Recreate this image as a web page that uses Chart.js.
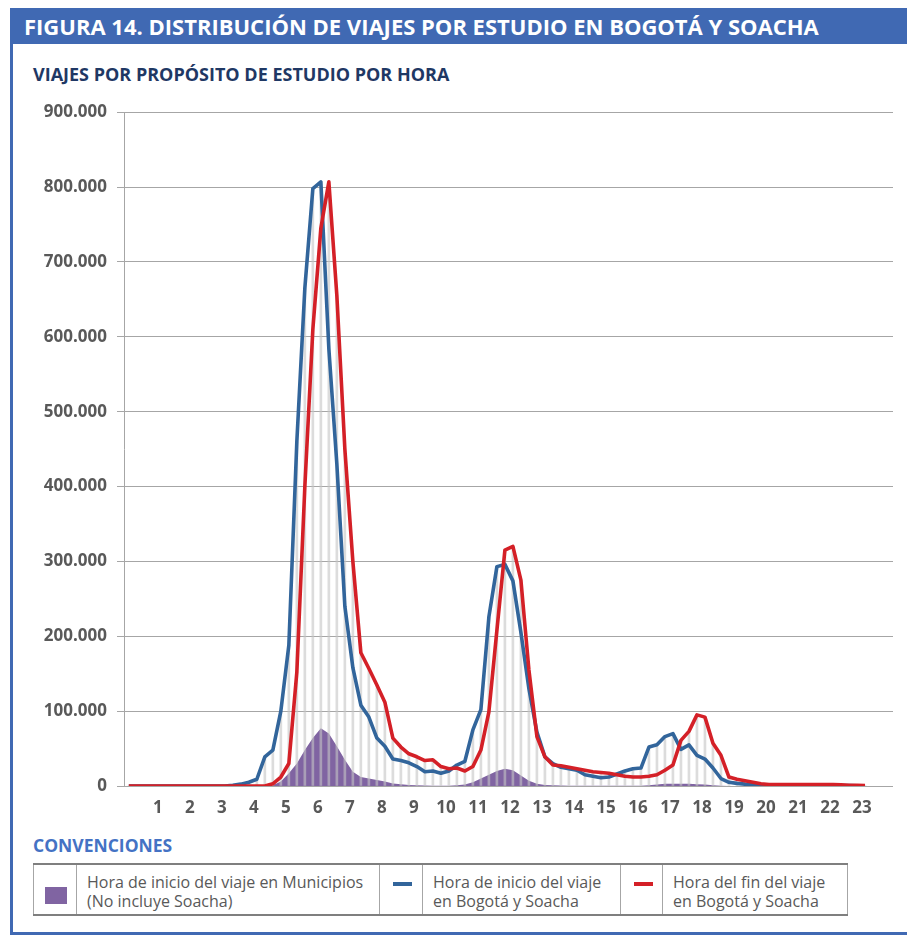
<!DOCTYPE html>
<html lang="es">
<head>
<meta charset="utf-8">
<title>Figura 14</title>
<script src="https://cdn.jsdelivr.net/npm/chart.js@4.4.1/dist/chart.umd.min.js"></script>
<style>
  body { margin: 0; width: 907px; height: 940px; background: #fff; font-family: 'Open Sans', sans-serif; position: relative; overflow: hidden; }
  .frame { position: absolute; left: 10px; top: 8px; width: 920px; height: 924px; border-left: 3px solid #4069b3; border-bottom: 3px solid #4069b3; }
  .titlebar { position: absolute; left: 10px; top: 8px; width: 897px; height: 36px; background: #4069b3; color: #fff;
    font-weight: 700; font-size: 22px; line-height: 36px; padding-left: 14px; box-sizing: border-box; white-space: nowrap; }
  .subtitle { position: absolute; left: 33px; top: 62px; font-weight: 700; font-size: 18px; line-height: 24px; color: #1f3864; white-space: nowrap; }
  .conv { position: absolute; left: 33px; top: 833px; font-weight: 700; font-size: 17.5px; line-height: 24px; color: #4472c4; }
  #wrap { position: absolute; left: 0; top: 92px; width: 907px; height: 735px; }
  table.legend { position: absolute; left: 33px; top: 863px; width: 814px; height: 53px; border-collapse: collapse; table-layout: fixed;
    border-top: 2px solid #7f7f7f; border-bottom: 2px solid #7f7f7f; border-left: 1px solid #a6a6a6; border-right: 1px solid #a6a6a6; }
  table.legend td { border-left: 1px solid #a6a6a6; padding: 0; position: relative; font-size: 16px; line-height: 19px; color: #595959; vertical-align: top; }
  table.legend td.txt { padding: 8px 0 0 10px; white-space: nowrap; }
  .box { position: absolute; left: 11px; top: 22px; width: 22px; height: 17px; background: #8064a2; }
  .dash { position: absolute; left: 13px; top: 17px; width: 19px; height: 4px; }
</style>
</head>
<body>
<div class="frame"></div>
<div class="titlebar">FIGURA 14. DISTRIBUCIÓN DE VIAJES POR ESTUDIO EN BOGOTÁ Y SOACHA</div>
<div class="subtitle">VIAJES POR PROPÓSITO DE ESTUDIO POR HORA</div>
<div id="wrap"><canvas id="chart"></canvas></div>
<div class="conv">CONVENCIONES</div>
<table class="legend">
  <colgroup>
    <col style="width:43px"><col style="width:303px"><col style="width:43px">
    <col style="width:198px"><col style="width:42px"><col style="width:185px">
  </colgroup>
  <tr>
    <td><span class="box"></span></td>
    <td class="txt">Hora de inicio del viaje en Municipios<br>(No incluye Soacha)</td>
    <td><span class="dash" style="background:#32659b"></span></td>
    <td class="txt">Hora de inicio del viaje<br>en Bogotá y Soacha</td>
    <td><span class="dash" style="background:#d42027"></span></td>
    <td class="txt">Hora del fin del viaje<br>en Bogotá y Soacha</td>
  </tr>
</table>

<script>
// hour labels on the x axis (one every 4 quarter-hour slots)
const horas = ['1', '2', '3', '4', '5', '6', '7', '8', '9', '10', '11', '12',
               '13', '14', '15', '16', '17', '18', '19', '20', '21', '22', '23'];

// trips per 15-minute slot, starting 0:00 (one row per hour)
const inicioBogota = [
    0, 0, 0, 0,
    0, 0, 0, 0,
    0, 0, 0, 0,
    0, 1000, 2500, 5000,
    9000, 39000, 48000, 100000,
    188000, 460000, 665000, 798000,
    807000, 584000, 430000, 240000,
    158000, 108000, 92000, 64000,
    53000, 36000, 34000, 31000,
    26000, 19000, 20000, 17000,
    20000, 28000, 33000, 75000,
    102000, 226000, 293000, 296000,
    274000, 205000, 130000, 72000,
    39000, 30000, 25000, 23000,
    21000, 15000, 13000, 11000,
    12000, 16000, 20000, 23000,
    24000, 52000, 55000, 66000,
    70000, 49000, 55000, 41000,
    36000, 24000, 10000, 5000,
    3500, 2500, 2000, 1500,
    1000, 1000, 1000, 1000,
    1000, 1000, 1000, 800,
    800, 600, 500, 400,
    300
];

const finBogota = [
    0, 0, 0, 0,
    0, 0, 0, 0,
    0, 0, 0, 0,
    0, 0, 0, 0,
    0, 0, 3000, 12000,
    30000, 152000, 400000, 610000,
    745000, 807000, 655000, 450000,
    300000, 178000, 157000, 135000,
    112000, 64000, 52000, 43000,
    39000, 34000, 35000, 26000,
    23000, 24000, 20000, 26000,
    48000, 99000, 208000, 315000,
    320000, 275000, 155000, 66000,
    39000, 28000, 27000, 25000,
    23000, 21000, 19000, 18000,
    17000, 15000, 13000, 12000,
    12000, 13000, 15000, 21000,
    28000, 61000, 73000, 95000,
    92000, 57000, 41000, 12000,
    9000, 7000, 5000, 3000,
    2000, 2000, 2000, 2000,
    2000, 2000, 2000, 2000,
    2000, 1500, 1000, 1000,
    500
];

const inicioMunicipios = [
    0, 0, 0, 0,
    0, 0, 0, 0,
    0, 0, 0, 0,
    0, 0, 0, 0,
    0, 0, 1000, 6000,
    17000, 30000, 48000, 64000,
    77000, 70000, 53000, 35000,
    19000, 12000, 10000, 8000,
    6000, 3500, 2500, 1500,
    1000, 800, 500, 500,
    500, 1000, 2000, 5000,
    10000, 15000, 20000, 23000,
    21000, 14000, 7000, 3000,
    1500, 1000, 800, 500,
    500, 500, 500, 500,
    500, 500, 500, 500,
    500, 1000, 2000, 3000,
    3000, 3000, 3000, 2500,
    2000, 1000, 500, 0,
    0, 0, 0, 0,
    0, 0, 0, 0,
    0, 0, 0, 0,
    0, 0, 0, 0,
    0
];

const toPoints = arr => arr.map((v, i) => ({ x: i, y: v }));
// drop lines go from the highest series value down to the axis
const dropLines = inicioBogota.map((v, i) => ({ x: i, y: Math.max(v, finBogota[i], inicioMunicipios[i]) }));

const miles = v => String(v).replace(/\B(?=(\d{3})+(?!\d))/g, '.');

Chart.defaults.font.family = "'Open Sans', sans-serif";

new Chart(document.getElementById('chart'), {
    type: 'line',
    data: {
        datasets: [
            {
                label: 'Hora del fin del viaje en Bogotá y Soacha',
                data: toPoints(finBogota),
                borderColor: '#d42027',
                borderWidth: 3.6,
                borderJoinStyle: 'round',
                pointRadius: 0,
                tension: 0,
                order: 1
            },
            {
                label: 'Hora de inicio del viaje en Bogotá y Soacha',
                data: toPoints(inicioBogota),
                borderColor: '#32659b',
                borderWidth: 3.6,
                borderJoinStyle: 'round',
                pointRadius: 0,
                tension: 0,
                order: 2
            },
            {
                type: 'bar',
                label: 'drop',
                data: dropLines,
                backgroundColor: 'rgba(196, 196, 196, 0.6)',
                barThickness: 2,
                order: 3
            },
            {
                label: 'Hora de inicio del viaje en Municipios (No incluye Soacha)',
                data: toPoints(inicioMunicipios),
                borderWidth: 0,
                borderColor: '#8064a2',
                backgroundColor: '#8064a2',
                fill: 'origin',
                pointRadius: 0,
                tension: 0,
                order: 4
            }
        ]
    },
    options: {
        responsive: true,
        maintainAspectRatio: false,
        animation: false,
        layout: { padding: { top: 20, right: 14, left: 0, bottom: 0 } },
        plugins: {
            legend: { display: false },
            tooltip: { enabled: false }
        },
        scales: {
            x: {
                type: 'linear',
                min: -0.6,
                max: 95.5,
                offset: false,
                grid: { display: false, drawTicks: false },
                border: { display: false },
                afterBuildTicks: scale => {
                    scale.ticks = horas.map((h, k) => ({ value: (k + 1) * 4 }));
                },
                afterFit: scale => { scale.height = 41; },
                ticks: {
                    autoSkip: false,
                    maxRotation: 0,
                    padding: 12,
                    labelOffset: -3,
                    color: '#595959',
                    font: { size: 17, weight: 'bold' },
                    callback: v => horas[v / 4 - 1]
                }
            },
            y: {
                min: 0,
                max: 900000,
                grid: { color: '#a6a6a6', lineWidth: 1, drawTicks: true, tickLength: 7 },
                border: { display: true, color: '#a6a6a6' },
                afterFit: scale => { scale.width = 124; },
                ticks: {
                    stepSize: 100000,
                    padding: 10,
                    color: '#595959',
                    font: { size: 17, weight: 'bold' },
                    callback: v => miles(v)
                }
            }
        }
    }
});
</script>
</body>
</html>
